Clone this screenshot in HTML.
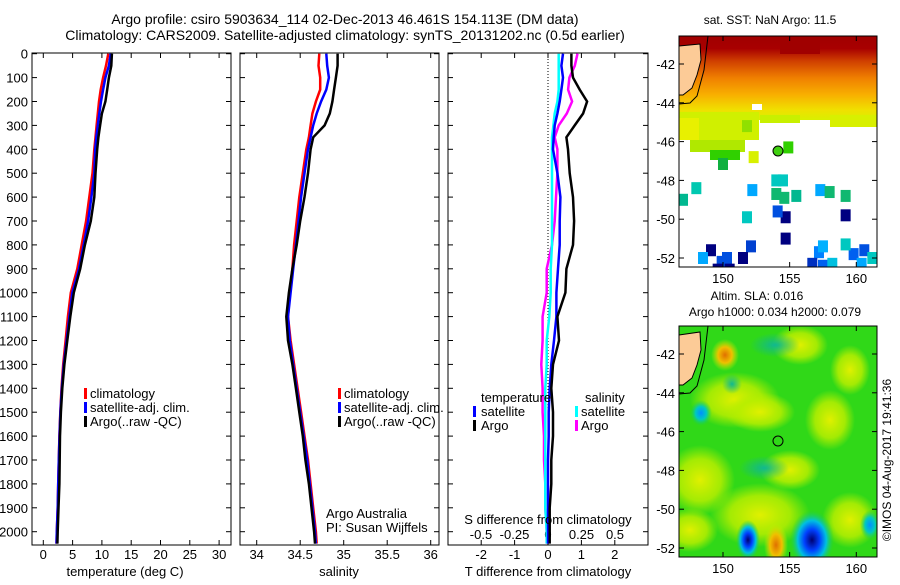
<!DOCTYPE html>
<html><head><meta charset="utf-8"><style>
body{margin:0;background:#fff;}
svg text{font-family:"Liberation Sans",sans-serif;fill:#000;}
</style></head><body>
<svg id="fig" width="900" height="580" viewBox="0 0 900 580" xmlns="http://www.w3.org/2000/svg">
<defs>
<clipPath id="cp1"><rect x="32" y="53" width="199" height="492"/></clipPath>
<clipPath id="cp2"><rect x="240" y="53" width="199" height="492"/></clipPath>
<clipPath id="cp3"><rect x="448" y="53" width="200" height="492"/></clipPath>
<clipPath id="cpm1"><rect x="679" y="36" width="198" height="231"/></clipPath>
<clipPath id="cpm2"><rect x="679" y="326" width="198" height="231"/></clipPath>
<linearGradient id="sst" x1="0" y1="0" x2="0" y2="1">
<stop offset="0" stop-color="#a00000"/><stop offset="0.15" stop-color="#a80000"/><stop offset="0.3" stop-color="#d04000"/><stop offset="0.5" stop-color="#f08000"/><stop offset="0.7" stop-color="#f8b000"/><stop offset="0.88" stop-color="#f0e000"/><stop offset="1" stop-color="#d8f000"/>
</linearGradient>
<radialGradient id="gOr"><stop offset="0" stop-color="#e07000"/><stop offset="0.5" stop-color="#f0c000"/><stop offset="1" stop-color="#c0f000" stop-opacity="0"/></radialGradient>
<radialGradient id="gBl"><stop offset="0" stop-color="#000070"/><stop offset="0.35" stop-color="#0040ff"/><stop offset="0.65" stop-color="#00c0e0"/><stop offset="1" stop-color="#20d040" stop-opacity="0"/></radialGradient>
<radialGradient id="gCy"><stop offset="0" stop-color="#0090ff"/><stop offset="0.5" stop-color="#00c8c0"/><stop offset="1" stop-color="#20d040" stop-opacity="0"/></radialGradient>
<radialGradient id="gYe"><stop offset="0" stop-color="#e0f000"/><stop offset="0.6" stop-color="#b8ee00" stop-opacity="0.85"/><stop offset="1" stop-color="#b0ee00" stop-opacity="0"/></radialGradient>
<radialGradient id="gTe"><stop offset="0" stop-color="#10b890"/><stop offset="1" stop-color="#10b890" stop-opacity="0"/></radialGradient>
</defs>

<text x="345" y="24" font-size="14" text-anchor="middle">Argo profile: csiro 5903634_114 02-Dec-2013 46.461S 154.113E (DM data)</text>
<text x="345" y="40" font-size="14" text-anchor="middle">Climatology: CARS2009. Satellite-adjusted climatology: synTS_20131202.nc (0.5d earlier)</text>

<g id="panels"></g>

<!-- Top map -->
<g>
<text x="770" y="24" font-size="12" text-anchor="middle">sat. SST: NaN Argo: 11.5</text>
<g clip-path="url(#cpm1)" id="sstg">
<rect x="679" y="36" width="198" height="84" fill="url(#sst)"/>
<rect x="679" y="112" width="80" height="28" fill="#d0f000"/>
<rect x="679" y="118" width="20" height="22" fill="#e8f000"/>
<rect x="690" y="140" width="55" height="12" fill="#b0e800"/>
<rect x="710" y="150" width="30" height="10" fill="#30d000"/>
<rect x="718" y="158" width="10" height="12" fill="#10b040"/>
<rect x="760" y="115" width="40" height="8" fill="#c8f000"/>
<rect x="830" y="115" width="47" height="12" fill="#d8f000"/>
<rect x="780" y="36" width="40" height="18" fill="#a00000"/>
<rect x="752" y="104" width="10" height="6" fill="#ffffff"/>
</g>
<g id="sstblocks" clip-path="url(#cpm1)"></g>
<path d="M679,46 L700,44 L701,60 L697,75 L692,88 L683,95 L679,95 Z" fill="#fccb97" stroke="#000" stroke-width="1"/>
<path d="M708,36 L704,70 L697,96 L690,103 L679,104" fill="none" stroke="#000" stroke-width="1"/>
<circle cx="778" cy="151" r="5" fill="#40d010" stroke="#000" stroke-width="1"/>
<rect x="679" y="36" width="198" height="231" fill="none" stroke="#000" stroke-width="1"/>
<g id="m1axes"></g>
</g>

<!-- Bottom map -->
<g>
<text x="757" y="300" font-size="12" text-anchor="middle">Altim. SLA: 0.016</text>
<text x="775" y="316" font-size="12" text-anchor="middle">Argo h1000: 0.034 h2000: 0.079</text>
<g clip-path="url(#cpm2)">
<rect x="679" y="326" width="198" height="231" fill="#30d818"/>
<ellipse cx="735" cy="400" rx="45" ry="28" fill="url(#gYe)"/>
<ellipse cx="700" cy="480" rx="35" ry="35" fill="url(#gYe)"/>
<ellipse cx="760" cy="412" rx="35" ry="20" fill="url(#gYe)"/>
<ellipse cx="800" cy="345" rx="28" ry="20" fill="url(#gYe)"/>
<ellipse cx="830" cy="420" rx="25" ry="30" fill="url(#gYe)"/>
<ellipse cx="790" cy="470" rx="30" ry="20" fill="url(#gYe)"/>
<ellipse cx="760" cy="515" rx="50" ry="32" fill="url(#gYe)"/>
<ellipse cx="690" cy="530" rx="28" ry="22" fill="url(#gYe)"/>
<ellipse cx="850" cy="520" rx="28" ry="28" fill="url(#gYe)"/>
<ellipse cx="850" cy="370" rx="20" ry="25" fill="url(#gYe)"/>
<ellipse cx="764" cy="468" rx="25" ry="12" fill="url(#gTe)"/>
<ellipse cx="775" cy="345" rx="25" ry="12" fill="url(#gTe)"/>
<ellipse cx="725" cy="355" rx="14" ry="16" fill="url(#gOr)"/>
<ellipse cx="776" cy="545" rx="12" ry="22" fill="url(#gOr)"/>
<ellipse cx="701" cy="413" rx="11" ry="13" fill="url(#gCy)"/>
<ellipse cx="732" cy="384" rx="10" ry="10" fill="url(#gTe)"/>
<ellipse cx="812" cy="540" rx="22" ry="30" fill="url(#gBl)"/>
<ellipse cx="748" cy="540" rx="12" ry="20" fill="url(#gBl)"/>
<ellipse cx="870" cy="525" rx="10" ry="15" fill="url(#gCy)"/>
</g>
<path d="M679,335 L700,332 L701,350 L697,365 L692,378 L683,385 L679,385 Z" fill="#fccb97" stroke="#000" stroke-width="1"/>
<path d="M708,326 L704,360 L697,386 L690,393 L679,394" fill="none" stroke="#000" stroke-width="1"/>
<circle cx="778" cy="441" r="5" fill="none" stroke="#000" stroke-width="1"/>
<rect x="679" y="326" width="198" height="231" fill="none" stroke="#000" stroke-width="1"/>
<g id="m2axes"></g>
</g>
<text transform="translate(891,460) rotate(-90)" font-size="12" text-anchor="middle">©IMOS 04-Aug-2017 19:41:36</text>

<script>
// ---- Data ----
const depths = [0,50,100,150,200,250,300,350,400,500,600,700,800,900,1000,1100,1200,1300,1400,1500,1600,1700,1800,1900,2000,2050];
const tempArgo = [11.7,11.6,11.2,10.9,10.6,10.0,9.7,9.4,9.2,8.9,8.7,8.1,7.1,6.3,5.2,4.6,4.1,3.6,3.25,3.0,2.85,2.8,2.75,2.6,2.45,2.4];
const tempClim = [11.1,10.7,10.2,9.8,9.5,9.3,9.1,8.9,8.7,8.4,7.85,7.3,6.55,5.8,4.7,4.2,3.8,3.4,3.1,2.9,2.75,2.65,2.55,2.45,2.3,2.25];
const tempSat = [11.5,11.2,10.6,10.2,9.85,9.55,9.3,9.05,8.85,8.7,8.2,7.65,6.9,6.1,4.95,4.45,3.98,3.5,3.15,2.92,2.77,2.65,2.55,2.45,2.3,2.25];
const salArgo = [34.93,34.93,34.91,34.89,34.87,34.84,34.78,34.65,34.62,34.59,34.55,34.50,34.46,34.41,34.37,34.34,34.36,34.41,34.45,34.49,34.53,34.56,34.60,34.63,34.66,34.67];
const salClim = [34.72,34.71,34.73,34.73,34.68,34.64,34.62,34.60,34.57,34.53,34.49,34.46,34.43,34.41,34.38,34.36,34.39,34.43,34.47,34.51,34.55,34.59,34.62,34.65,34.68,34.69];
const salSat = [34.80,34.81,34.83,34.80,34.74,34.69,34.65,34.62,34.59,34.55,34.51,34.48,34.45,34.42,34.39,34.36,34.38,34.42,34.46,34.50,34.54,34.58,34.61,34.64,34.67,34.68];
const tDiffArgo = [0.7,0.7,0.75,0.95,1.17,1.05,0.8,0.55,0.6,0.65,0.75,0.78,0.75,0.55,0.52,0.28,0.33,0.15,0.1,0.15,0.15,0.1,0.1,0.05,0.05,0.05];
const tDiffSat = [0.45,0.4,0.45,0.4,0.35,0.28,0.2,0.17,0.15,0.28,0.37,0.35,0.35,0.3,0.25,0.25,0.18,0.1,0.05,0.02,0.02,0,0,0,0,0];
const sDiffArgo = [0.22,0.2,0.16,0.15,0.18,0.14,0.08,0.05,0.07,0.07,0.06,0.05,0.03,-0.01,-0.01,-0.04,-0.04,-0.05,-0.04,-0.04,-0.03,-0.03,-0.02,-0.02,-0.01,-0.01];
const sDiffSat = [0.08,0.08,0.08,0.08,0.07,0.05,0.04,0.03,0.03,0.03,0.03,0.03,0.03,0.02,0.02,0.01,-0.01,-0.01,-0.02,-0.02,-0.02,-0.02,-0.02,-0.02,-0.01,-0.01];
const depthTicks = [0,100,200,300,400,500,600,700,800,900,1000,1100,1200,1300,1400,1500,1600,1700,1800,1900,2000];
const tempTicks = [0,5,10,15,20,25,30];
const salTicks = [34,34.5,35,35.5,36];
const tDiffTicks = [-2,-1,0,1,2];
const sDiffTicks = [-0.5,-0.25,0,0.25,0.5];
const sDiffTickLabels = ['-0.5','-0.25','0','0.25','0.5'];
const latTicks = [-42,-44,-46,-48,-50,-52];
const lonTicks = [150,155,160];
// SST block patches: [lon, lat, color]
const sstBlocks = [[154.9,-46.3,'#30d000'],[152.3,-46.8,'#d8f000'],[151.8,-45.2,'#90e000'],[148.0,-48.4,'#00c8b0'],[147.0,-49.0,'#00b890'],[152.2,-48.5,'#00a8ff'],[154.0,-48.0,'#00c8c0'],[154.5,-48.0,'#00c8c0'],[154.0,-48.7,'#10b870'],[154.6,-48.9,'#10b870'],[155.5,-48.8,'#00b890'],[157.3,-48.5,'#00a8ff'],[158.0,-48.6,'#10b870'],[159.2,-48.8,'#10b870'],[154.7,-49.9,'#000080'],[154.1,-49.6,'#0050e0'],[159.2,-49.8,'#000080'],[151.8,-49.9,'#00c8c0'],[154.7,-51.0,'#000080'],[152.1,-51.4,'#0040d0'],[149.1,-51.6,'#000080'],[148.5,-52.0,'#00a8ff'],[150.3,-52.0,'#0050e0'],[149.9,-52.2,'#0050e0'],[151.5,-52.0,'#000080'],[149.6,-52.6,'#000080'],[150.5,-52.6,'#000080'],[157.2,-51.7,'#0080ff'],[157.5,-51.4,'#00b0ff'],[156.7,-52.3,'#0030c0'],[157.5,-52.4,'#0060f0'],[158.2,-52.3,'#00c0e0'],[159.8,-51.8,'#0060f0'],[160.6,-51.6,'#0050e0'],[160.4,-52.3,'#00a8ff'],[161.2,-52.0,'#00c8c0'],[159.2,-51.3,'#00c8c0'],[156.2,-52.8,'#0040d0'],[153.7,-52.8,'#000080'],[148.6,-52.8,'#000080']];

const NS='http://www.w3.org/2000/svg';
const svg=document.getElementById('fig');
function mk(tag,attrs,parent){const e=document.createElementNS(NS,tag);for(const k in attrs)e.setAttribute(k,attrs[k]);(parent||svg).appendChild(e);return e;}
function yD(d){return 53.7+d*0.239;}
const x1=v=>43.3+v*5.86;
const x2=v=>256.7+(v-34)*87;
const x3=v=>548+v*33.4;
const x3s=v=>548+v*134;

const panelsG=document.getElementById('panels');
function frame(L,R,name){
  const r=mk('rect',{x:L,y:53,width:R-L,height:492,fill:'none',stroke:'#000','stroke-width':1},panelsG);
  
  
  depthTicks.forEach(d=>{
    mk('line',{x1:L,x2:L+5,y1:yD(d),y2:yD(d),stroke:'#000'},panelsG);
    mk('line',{x1:R-5,x2:R,y1:yD(d),y2:yD(d),stroke:'#000'},panelsG);
  });
}
frame(32,231,'temperature-panel');frame(240,439,'salinity-panel');frame(448,648,'difference-panel');
depthTicks.forEach(d=>{
  const t=mk('text',{x:28,y:yD(d)+5,'font-size':13,'text-anchor':'end'},panelsG);
  
  
  t.textContent=d;
});
function xticks(vals,fx,labels,y,top){
  vals.forEach((v,i)=>{
    const X=fx(v);
    mk('line',{x1:X,x2:X,y1:545,y2:540,stroke:'#000'},panelsG);
    if(top) mk('line',{x1:X,x2:X,y1:53,y2:58,stroke:'#000'},panelsG);
    const t=mk('text',{x:X,y:y,'font-size':13,'text-anchor':'middle'},panelsG);
    
    
    t.textContent=labels?labels[i]:v;
  });
}
xticks(tempTicks,x1,null,559,true);
xticks(salTicks,x2,null,559,true);
xticks(tDiffTicks,x3,null,559,true);
sDiffTicks.forEach((v,i)=>{
  const t=mk('text',{x:x3s(v),y:539,'font-size':13,'text-anchor':'middle'},panelsG);
  
  
  t.textContent=sDiffTickLabels[i];
});
const zl=mk('line',{x1:x3(0),x2:x3(0),y1:53,y2:545,stroke:'#000','stroke-dasharray':'1,2'},panelsG);



function series(vals,fx,color,clip,name,w){
  const pts=vals.map((v,i)=>fx(v).toFixed(1)+','+yD(depths[i]).toFixed(1)).join(' ');
  const p=mk('polyline',{points:pts,fill:'none',stroke:color,'stroke-width':w||2.5,'clip-path':'url(#'+clip+')'},panelsG);
  
  
}
series(tempClim,x1,'#ff0000','cp1','temp-climatology-line');
series(tempSat,x1,'#0000ff','cp1','temp-satellite-line');
series(tempArgo,x1,'#000000','cp1','temp-argo-line');
series(salClim,x2,'#ff0000','cp2','sal-climatology-line');
series(salSat,x2,'#0000ff','cp2','sal-satellite-line');
series(salArgo,x2,'#000000','cp2','sal-argo-line');
series(sDiffArgo,x3s,'#ff00ff','cp3','sdiff-argo-line');
series(sDiffSat,x3s,'#00ffff','cp3','sdiff-satellite-line');
series(tDiffSat,x3,'#0000ff','cp3','tdiff-satellite-line');
series(tDiffArgo,x3,'#000000','cp3','tdiff-argo-line');

function txt(x,y,s,name,size,anchor){
  const t=mk('text',{x:x,y:y,'font-size':size||13,'text-anchor':anchor||'start'},panelsG);
  
  
  t.textContent=s;return t;
}
function legBar(x,y,c){mk('rect',{x:x,y:y-10,width:3,height:11,fill:c},panelsG);}
[[84,90],[338,344]].forEach(([bx,tx],k)=>{
  const names=['climatology','satellite-adj. clim.','Argo(..raw -QC)'];const cols=['#ff0000','#0000ff','#000000'];
  names.forEach((n,i)=>{legBar(bx,398+i*14,cols[i]);txt(tx,398+i*14,n,'legend-entry',13);});
});
txt(481,402,'temperature','legend-heading-temperature');
txt(585,402,'salinity','legend-heading-salinity');
legBar(473,416,'#0000ff');txt(481,416,'satellite','legend-entry');
legBar(473,430,'#000000');txt(481,430,'Argo','legend-entry');
legBar(575,416,'#00ffff');txt(581,416,'satellite','legend-entry');
legBar(575,430,'#ff00ff');txt(581,430,'Argo','legend-entry');
txt(326,518,'Argo Australia','credit-institution');
txt(326,532,'PI: Susan Wijffels','credit-pi');
txt(548,524,'S difference from climatology','s-diff-axis-title',13,'middle');
txt(125,576,'temperature (deg C)','x-axis-title-temperature',13,'middle');
txt(339,576,'salinity','x-axis-title-salinity',13,'middle');
txt(548,576,'T difference from climatology','x-axis-title-tdiff',13,'middle');

const lonX=v=>723+(v-150)*13.33;
const latY1=v=>64+(-42-v)*19.4;
const latY2=v=>354+(-42-v)*19.4;
const blk=document.getElementById('sstblocks');
sstBlocks.forEach(b=>{
  const r=mk('rect',{x:lonX(b[0])-5,y:latY1(b[1])-6,width:10,height:12,fill:b[2]},blk);
  
  
});
function mapAxes(gid,latY,top,bot){
  const g=document.getElementById(gid);
  latTicks.forEach(l=>{
    const Y=latY(l);
    mk('line',{x1:679,x2:684,y1:Y,y2:Y,stroke:'#000'},g);
    mk('line',{x1:872,x2:877,y1:Y,y2:Y,stroke:'#000'},g);
    const t=mk('text',{x:675,y:Y+5,'font-size':13,'text-anchor':'end'},g);
    
    
    t.textContent=l;
  });
  lonTicks.forEach(l=>{
    const X=lonX(l);
    mk('line',{x1:X,x2:X,y1:bot,y2:bot-5,stroke:'#000'},g);
    mk('line',{x1:X,x2:X,y1:top,y2:top+5,stroke:'#000'},g);
    const t=mk('text',{x:X,y:bot+16,'font-size':13,'text-anchor':'middle'},g);
    
    
    t.textContent=l;
  });
}
mapAxes('m1axes',latY1,36,267);
mapAxes('m2axes',latY2,326,557);
</script>
</svg>
</body></html>
